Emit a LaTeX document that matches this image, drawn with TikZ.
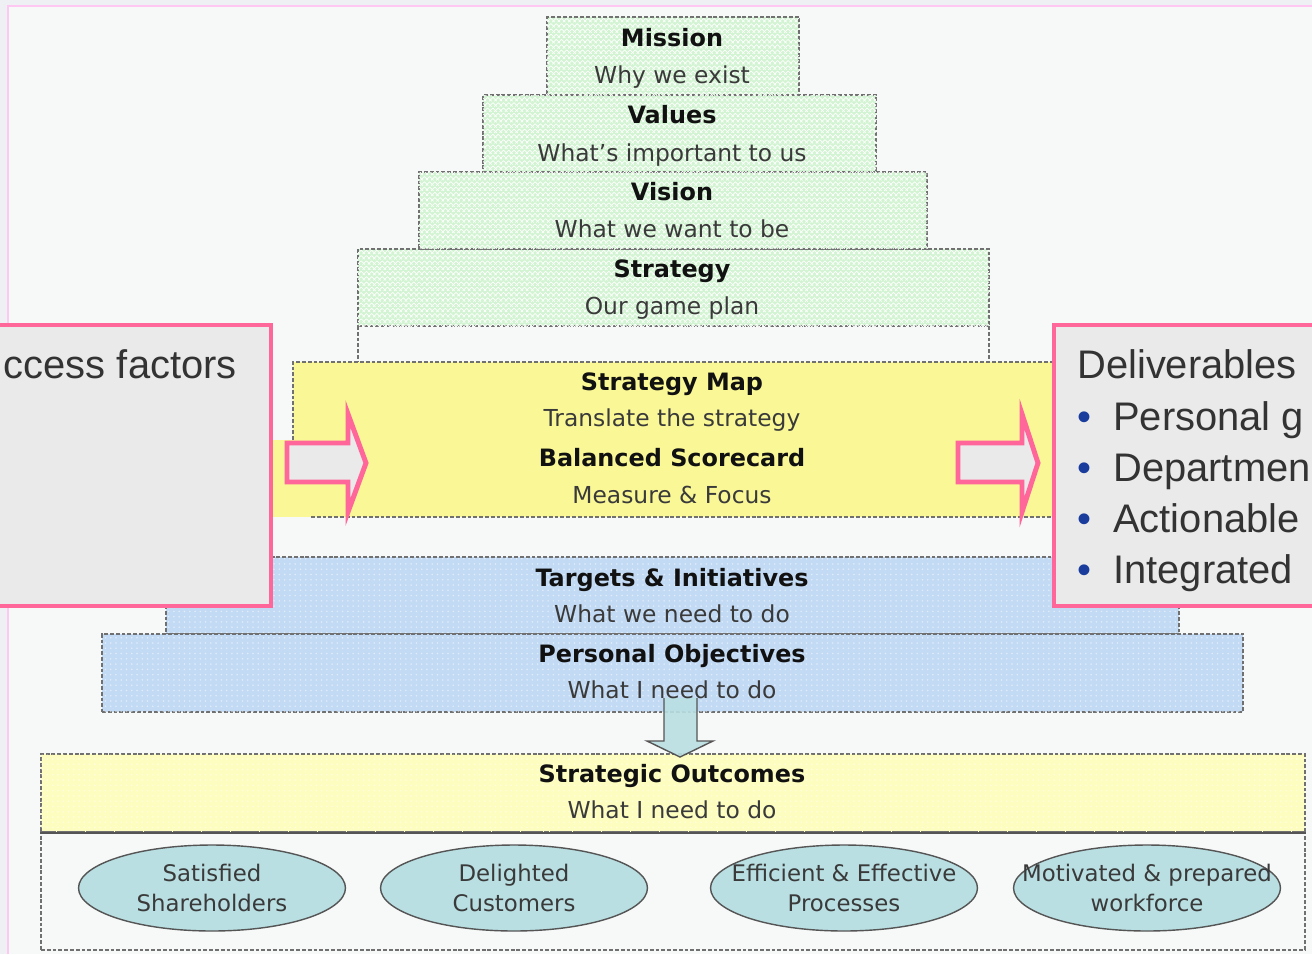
\documentclass[tikz,border=0pt]{standalone}
\usepackage{fontspec}
\setmainfont{DejaVu Sans}
\newfontfamily\calfont{Liberation Sans}
\usetikzlibrary{shapes.geometric,fit,patterns}
\definecolor{pagebg}{HTML}{F7F8F8}
\definecolor{outerbg}{HTML}{EEF0F4}
\definecolor{framepink}{HTML}{FFC8F2}
\definecolor{greenfill}{HTML}{D2F4D2}
\definecolor{yellowfill}{HTML}{FAF896}
\definecolor{paleyellow}{HTML}{FDFDC0}
\definecolor{bluefill}{HTML}{C2DAF4}
\definecolor{ellfill}{HTML}{B9DFE2}
\definecolor{ellgray}{HTML}{555555}
\definecolor{calloutfill}{HTML}{EAEAEA}
\definecolor{calloutpink}{HTML}{FF6699}
\definecolor{bulletblue}{HTML}{1A3C9C}
\definecolor{dashgray}{HTML}{707070}
\definecolor{subgray}{HTML}{3A3A3A}
\definecolor{titleblack}{HTML}{111111}
\definecolor{calltextgray}{HTML}{333333}
\begin{document}
\begin{tikzpicture}[x=0.02cm,y=-0.02cm,
  dashedge/.style={draw=dashgray, line width=0.7pt, dash pattern=on 2.2pt off 1.1pt},
  greenbox/.style={dashedge, fill=greenfill, inner sep=0pt,
    postaction={fill opacity=0.45, pattern=crosshatch, pattern color=white}},
  bluebox/.style={dashedge, fill=bluefill, inner sep=0pt,
    postaction={fill opacity=0.5, pattern=dots, pattern color=white}},
  paleybox/.style={dashedge, fill=paleyellow, inner sep=0pt,
    postaction={fill opacity=0.5, pattern=dots, pattern color=white}},
  plainbox/.style={dashedge, fill=pagebg, inner sep=0pt},
  ttl/.style={anchor=base, font=\bfseries\fontsize{13.6}{16}\selectfont, text=titleblack, inner sep=0pt},
  subttl/.style={anchor=base, font=\fontsize{13.3}{16}\selectfont, text=subgray, inner sep=0pt},
  goal/.style={ellipse, draw=ellgray, line width=0.8pt, fill=ellfill, minimum width=5.34cm, minimum height=1.72cm, inner sep=0pt},
  goaltext/.style={align=center, font=\fontsize{13}{17}\selectfont, text=subgray, inner sep=0pt},
  callout/.style={draw=calloutpink, line width=2.8pt, fill=calloutfill, inner sep=0pt},
  calltext/.style={font=\calfont\fontsize{22.7}{27}\selectfont, text=calltextgray, inner sep=0pt},
  blockarrow/.style={draw=calloutpink, line width=2.8pt, fill=calloutfill, line join=miter},
]
\useasboundingbox (0,0) rectangle (1312,954);
% background and frame
\fill[outerbg] (0,0) rectangle (1312,954);
\fill[pagebg] (8,6) rectangle (1312,954);
\draw[framepink, line width=1.1pt] (8,954) -- (8,6) -- (1312,6);

% green pyramid
\node[greenbox, fit={(358,249) (989,326)}] (strategy) {};
\node[greenbox, fit={(419,172) (927,249)}] (vision) {};
\node[greenbox, fit={(483,95) (876,172)}] (values) {};
\node[greenbox, fit={(547,17) (799,95)}] (mission) {};
\draw[dashedge] (358,326) -- (358,362);
\draw[dashedge] (989,326) -- (989,362);

% yellow strategy map band
\fill[yellowfill] (293,362) rectangle (1054,517);
\fill[yellowfill] (268,440) rectangle (293,517);
\node[inner sep=0pt, fit={(293,362) (1054,517)}] (smap) {};
\draw[dashedge] (293,440) -- (293,362) -- (1054,362);
\draw[dashedge] (311,517) -- (1054,517);

% blue bands
\node[bluebox, fit={(166,557) (1179,634)}] (targets) {};
\node[bluebox, fit={(102,634) (1243,712)}] (personal) {};

% strategic outcomes
\node[paleybox, fit={(41,754) (1305,832)}] (outcomes) {};
\node[plainbox, fit={(41,832) (1305,950)}] (goals) {};
\draw[ellgray, line width=1.1pt] (outcomes.south west) -- (outcomes.south east);

% down arrow from personal objectives to strategic outcomes
\fill[ellfill, fill opacity=0.9] (664,698) -- (697,698) -- (697,741) -- (713,741) -- (680,757) -- (647,741) -- (664,741) -- cycle;
\draw[ellgray, line width=0.8pt, line join=miter] (697,698) -- (697,741) -- (713,741) -- (680,757) -- (647,741) -- (664,741) -- (664,698);

% pyramid texts
\node[ttl] (t1) at (672,46.5) {Mission};
\node[subttl] (s1) at (672,83) {Why we exist};
\node[ttl] (t2) at (672,123) {Values};
\node[subttl] (s2) at (672,161) {What’s important to us};
\node[ttl] (t3) at (672,200) {Vision};
\node[subttl] (s3) at (672,237) {What we want to be};
\node[ttl] (t4) at (672,277) {Strategy};
\node[subttl] (s4) at (672,314) {Our game plan};
\node[ttl] (t5) at (672,390) {Strategy Map};
\node[subttl] (s5) at (672,426) {Translate the strategy};
\node[ttl] (t6) at (672,466.5) {Balanced Scorecard};
\node[subttl] (s6) at (672,503) {Measure \& Focus};
\node[ttl] (t7) at (672,586.5) {Targets \& Initiatives};
\node[subttl] (s7) at (672,622) {What we need to do};
\node[ttl] (t8) at (672,662) {Personal Objectives};
\node[subttl] (s8) at (672,698) {What I need to do};
\node[ttl] (t9) at (672,782) {Strategic Outcomes};
\node[subttl] (s9) at (672,818) {What I need to do};

% outcome ellipses
\node[goal] (g1) at (212,888) {};
\node[goal] (g2) at (514,888) {};
\node[goal] (g3) at (844,888) {};
\node[goal] (g4) at (1147,888) {};
\node[goaltext] (gt1) at (g1) {Satisfied\\Shareholders};
\node[goaltext] (gt2) at (g2) {Delighted\\Customers};
\node[goaltext] (gt3) at (g3) {Efficient \& Effective\\Processes};
\node[goaltext] (gt4) at (g4) {Motivated \& prepared\\workforce};

% callouts
\node[callout, fit={(-20,325) (271,606)}] (leftcall) {};
\node[callout, fit={(1054,325) (1340,606)}] (rightcall) {};
\node[calltext, anchor=base east] (lt) at (237,378) {ccess factors};
\node[calltext, anchor=base west] (rt0) at (1077,378) {Deliverables};
\node[calltext, anchor=base, text=bulletblue] (b1) at (1084,430) {•};
\node[calltext, anchor=base west] (rt1) at (1113,430) {Personal g};
\node[calltext, anchor=base, text=bulletblue] (b2) at (1084,481) {•};
\node[calltext, anchor=base west] (rt2) at (1113,481) {Departmen};
\node[calltext, anchor=base, text=bulletblue] (b3) at (1084,532) {•};
\node[calltext, anchor=base west] (rt3) at (1113,532) {Actionable};
\node[calltext, anchor=base, text=bulletblue] (b4) at (1084,583) {•};
\node[calltext, anchor=base west] (rt4) at (1113,583) {Integrated};

% pink block arrows
\draw[blockarrow] (287,443) -- (348,443) -- (348,414) -- (366,463) -- (348,512) -- (348,482) -- (287,482) -- cycle;
\draw[blockarrow] (958,443) -- (1022,443) -- (1022,414) -- (1038,463) -- (1022,512) -- (1022,482) -- (958,482) -- cycle;
\end{tikzpicture}
\end{document}
